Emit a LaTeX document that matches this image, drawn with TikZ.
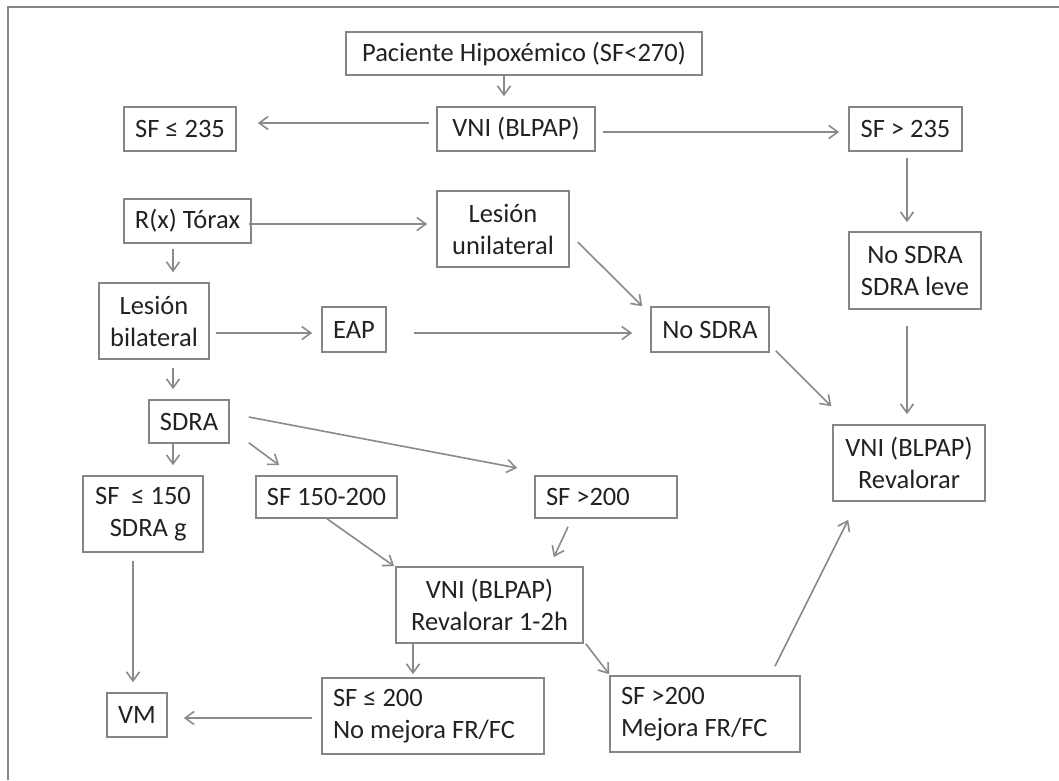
\documentclass[tikz,border=0pt]{standalone}
\usepackage{fontspec}
\setmainfont{Carlito}
\usetikzlibrary{arrows.meta}
\definecolor{boxgray}{HTML}{858585}
\definecolor{arrgray}{HTML}{8A8A8A}
\definecolor{txtgray}{HTML}{222222}
\tikzset{
  box/.style={draw=boxgray, line width=1.6pt, inner sep=0pt, text=txtgray,
    font=\fontsize{26.5}{32}\selectfont, align=center},
  lbox/.style={box, align=flush left, inner xsep=11pt},
  arr/.style={draw=arrgray, line width=1.6pt, -{Straight Barb[length=9pt,width=13pt]}},
  frame/.style={draw=boxgray, line width=1.5pt}
}
\begin{document}
\begin{tikzpicture}[x=1pt,y=-1pt]
\useasboundingbox (0,0) rectangle (1059,780);
\draw[frame] (8,780) -- (8,7) -- (1059,7);

\node[box, minimum width=356pt, minimum height=43pt] (pac) at (524,53.5) {Paciente Hipoxémico (SF<270)};
\node[box, minimum width=158pt, minimum height=44pt] (vni1) at (516,129) {VNI (BLPAP)};
\node[box, minimum width=112pt, minimum height=44pt] (sfle235) at (180,129) {SF ≤ 235};
\node[box, minimum width=113pt, minimum height=44pt] (sfgt235) at (905.5,129) {SF > 235};
\node[box, minimum width=132pt, minimum height=77pt] (nosdraleve) at (915,270.5) {No SDRA\\SDRA leve};
\node[box, minimum width=127pt, minimum height=44pt] (rx) at (187.5,221) {R(x) Tórax};
\node[box, minimum width=132pt, minimum height=76pt] (lesuni) at (503,229) {Lesión\\unilateral};
\node[box, minimum width=118pt, minimum height=45pt] (nosdra) at (710,329.5) {No SDRA};
\node[box, minimum width=110pt, minimum height=76pt] (lesbi) at (154,321) {Lesión\\bilateral};
\node[box, minimum width=64pt, minimum height=45pt] (eap) at (354,329.5) {EAP};
\node[box, minimum width=152pt, minimum height=76pt] (vnirev) at (909,463) {VNI (BLPAP)\\Revalorar};
\node[box, minimum width=80pt, minimum height=43pt] (sdra) at (189,421.5) {SDRA};
\node[box, align=right, minimum width=120pt, minimum height=76pt] (sf150) at (143,514) {SF\ \ ≤ 150\\SDRA g\,};
\node[box, minimum width=141pt, minimum height=42pt] (sf150200) at (326.5,497) {SF 150-200};
\node[lbox, text width=120pt, minimum height=42pt] (sf200a) at (606,497) {SF >200};
\node[box, minimum width=187pt, minimum height=76pt] (vni12) at (489.5,605) {VNI (BLPAP)\\Revalorar 1-2h};
\node[box, minimum width=60pt, minimum height=44pt] (vm) at (137,715) {VM};
\node[lbox, text width=200pt, minimum height=76pt] (sfle200) at (433,716) {SF ≤ 200\\No mejora FR/FC};
\node[lbox, text width=168pt, minimum height=76pt] (sf200b) at (705,714) {SF >200\\Mejora FR/FC};

% connectors
\draw[arr, shorten >=10pt] ([xshift=-20pt]pac.south) -- ([xshift=-12pt]vni1.north);
\draw[arr, shorten <=7pt, shorten >=21pt] ([yshift=6pt]vni1.west) -- ([yshift=6pt]sfle235.east);
\draw[arr, shorten <=7pt, shorten >=9pt] ([yshift=-3pt]vni1.east) -- ([yshift=-3pt]sfgt235.west);
\draw[arr, shorten <=6pt, shorten >=9pt] ([xshift=1.5pt]sfgt235.south) -- ([xshift=-8pt]nosdraleve.north);
\draw[arr, shorten <=-3pt, shorten >=9pt] ([yshift=-3pt]rx.east) -- ([yshift=5pt]lesuni.west);
\draw[arr] ([xshift=8pt,yshift=-13pt]lesuni.east) -- ([xshift=-8pt]nosdra.north west);
\draw[arr, shorten <=5pt, shorten >=10pt] ([xshift=-14.5pt]rx.south) -- ([xshift=19pt]lesbi.north);
\draw[arr, shorten <=6pt, shorten >=9pt] ([yshift=-12pt]lesbi.east) -- ([yshift=-3.5pt]eap.west);
\draw[arr, shorten <=27pt, shorten >=18pt] ([yshift=-3.5pt]eap.east) -- ([yshift=-3.5pt]nosdra.west);
\draw[arr] ([xshift=6pt,yshift=2pt]nosdra.south east) -- ([xshift=-1pt,yshift=18pt]vnirev.north west);
\draw[arr, shorten <=16pt, shorten >=10pt] ([xshift=-8pt]nosdraleve.south) -- ([xshift=-2pt]vnirev.north);
\draw[arr, shorten <=8pt, shorten >=10pt] ([xshift=19pt]lesbi.south) -- ([xshift=-16pt]sdra.north);
\draw[arr, shorten >=10pt] ([xshift=-16pt]sdra.south) -- ([xshift=30pt]sf150.north);
\draw[arr] ([xshift=19pt,yshift=1pt]sdra.south east) -- ([xshift=24pt,yshift=10pt]sf150200.north west);
\draw[arr] ([xshift=19pt,yshift=4.5pt]sdra.east) -- ([xshift=-17pt,yshift=29pt]sf200a.west);
\draw[arr] ([xshift=0.5pt]sf150200.south) -- ([xshift=-1pt]vni12.north west);
\draw[arr] ([xshift=-38pt,yshift=-8pt]sf200a.south) -- ([xshift=-30pt,yshift=9pt]vni12.north east);
\draw[arr, shorten <=8pt, shorten >=10pt] ([xshift=-10pt]sf150.south) -- ([xshift=-4pt]vm.north);
\draw[arr, shorten <=9pt, shorten >=16pt] ([yshift=-2pt]sfle200.west) -- ([yshift=-3pt]vm.east);
\draw[arr, shorten >=3pt] ([xshift=-76.5pt]vni12.south) -- ([xshift=-20pt]sfle200.north);
\draw[arr] ([xshift=2pt]vni12.south east) -- ([yshift=1pt]sf200b.north west);
\draw[arr] ([xshift=70pt,yshift=9pt]sf200b.north) -- ([xshift=16pt,yshift=-18pt]vnirev.south west);
\end{tikzpicture}
\end{document}
